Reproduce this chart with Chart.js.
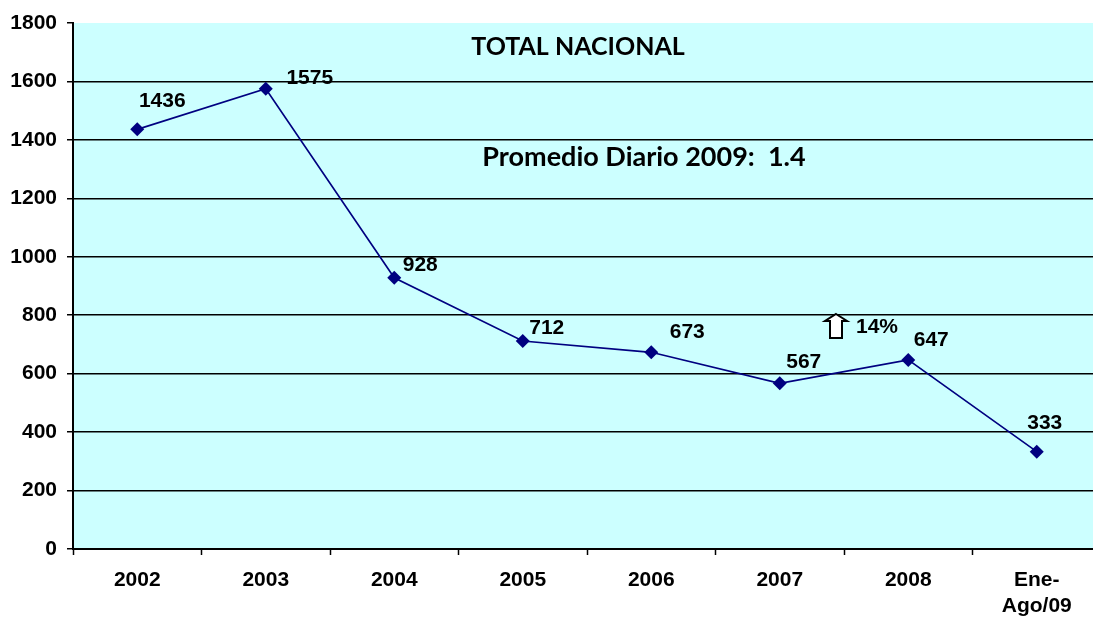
<!DOCTYPE html>
<html>
<head>
<meta charset="utf-8">
<script src="https://cdn.jsdelivr.net/npm/chart.js@4/dist/chart.umd.min.js"></script>
<style>
  html, body { margin: 0; padding: 0; background: #fff; overflow: hidden; }
  #wrap { width: 1110px; height: 623px; }
</style>
</head>
<body>
<div id="wrap"><canvas id="chart" width="1110" height="623"></canvas></div>
<script>
const categories = ["2002", "2003", "2004", "2005", "2006", "2007", "2008", ["Ene-", "Ago/09"]];
const totals = [1436, 1575, 928, 712, 673, 567, 647, 333];
const yTicks = [0, 200, 400, 600, 800, 1000, 1200, 1400, 1600, 1800];

// where each value label sits relative to its point (px)
const labelOffsets = [[25, -28], [44, -11], [26, -13], [24, -13], [36, -20], [24, -21], [23, -20], [8, -28]];

const labelFont = "bold 21px 'Liberation Sans', Arial, sans-serif";

const extras = {
  id: "extras",
  beforeDraw(chart) {
    const { ctx, chartArea: a } = chart;
    ctx.save();
    ctx.fillStyle = "#CCFFFF";
    ctx.fillRect(a.left, a.top, a.right - a.left, a.bottom - a.top);
    ctx.restore();
  },
  afterDraw(chart) {
    const ctx = chart.ctx;
    const meta = chart.getDatasetMeta(0);
    ctx.save();
    ctx.fillStyle = "#000";
    ctx.font = labelFont;
    ctx.textAlign = "center";
    ctx.textBaseline = "middle";
    meta.data.forEach((pt, i) => {
      ctx.fillText(String(totals[i]), pt.x + labelOffsets[i][0], pt.y + labelOffsets[i][1]);
    });

    ctx.font = "bold 25px Lato, 'Noto Sans', sans-serif";
    ctx.fillText("TOTAL NACIONAL", 578, 47);
    ctx.font = "bold 27px Lato, 'Noto Sans', sans-serif";
    ctx.fillText("Promedio Diario 2009:  1.4", 644, 157);

    // hollow up arrow
    ctx.beginPath();
    ctx.moveTo(836, 314);
    ctx.lineTo(847, 321);
    ctx.lineTo(842, 321);
    ctx.lineTo(842, 338);
    ctx.lineTo(830, 338);
    ctx.lineTo(830, 321);
    ctx.lineTo(825, 321);
    ctx.closePath();
    ctx.fillStyle = "#fff";
    ctx.fill();
    ctx.lineWidth = 2;
    ctx.strokeStyle = "#000";
    ctx.stroke();

    ctx.fillStyle = "#000";
    ctx.font = labelFont;
    ctx.textAlign = "left";
    ctx.fillText("14%", 856, 327);
    ctx.restore();
  }
};

new Chart(document.getElementById("chart"), {
  type: "line",
  data: {
    labels: categories,
    datasets: [{
      data: totals,
      borderColor: "#000080",
      backgroundColor: "#000080",
      borderWidth: 1.6,
      pointStyle: "rectRot",
      pointRadius: 7,
      pointBorderWidth: 0,
      tension: 0
    }]
  },
  options: {
    responsive: false,
    animation: false,
    layout: { padding: { left: 0, top: 23, right: 9, bottom: 0 } },
    plugins: { legend: { display: false }, tooltip: { enabled: false } },
    scales: {
      x: {
        offset: true,
        afterFit: (s) => { s.height = 74; },
        grid: { offset: true, drawOnChartArea: false, drawTicks: true, tickLength: 6, tickColor: "#000", tickWidth: 1.5 },
        border: { display: true, color: "#000", width: 2 },
        ticks: { color: "#000", font: { family: "'Liberation Sans', Arial, sans-serif", size: 21, weight: "bold", lineHeight: 1.25 }, padding: 12, maxRotation: 0, autoSkip: false }
      },
      y: {
        min: 0,
        max: 1800,
        afterFit: (s) => { s.width = 73; },
        afterBuildTicks: (s) => { s.ticks = yTicks.map((v) => ({ value: v })); },
        grid: {
          color: (c) => (c.tick && c.tick.value === 1800 ? "rgba(0,0,0,0)" : "#000"),
          lineWidth: 1.5,
          tickLength: 6,
          tickColor: "#000",
          tickWidth: 1.5
        },
        border: { display: true, color: "#000", width: 2 },
        ticks: {
          color: "#000",
          font: { family: "'Liberation Sans', Arial, sans-serif", size: 21, weight: "bold" },
          padding: 10,
          callback: (v) => String(v)
        }
      }
    }
  },
  plugins: [extras]
});
</script>
</body>
</html>
